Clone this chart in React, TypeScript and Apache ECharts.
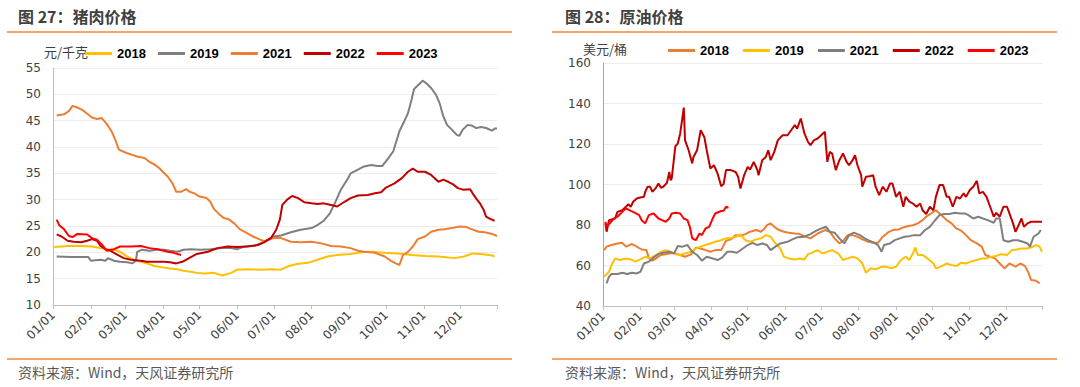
import React, { useEffect, useRef } from "react";
import * as echarts from "echarts";

// ---------- axis categories (days of year) ----------
const monthDays = [31, 28, 31, 30, 31, 30, 31, 31, 30, 31, 30, 31];
const dayLabels: string[] = [];
monthDays.forEach((n, m) => {
  for (let d = 1; d <= n; d++) {
    dayLabels.push(String(m + 1).padStart(2, "0") + "/" + String(d).padStart(2, "0"));
  }
});

// ---------- pork price (元/千克), [dayIndex, value] ----------
const pork2018: [number, number][] = [
  [1, 21.0], [12, 21.2], [23, 21.2], [32, 21.1], [39, 20.8], [44, 20.6], [50, 20.5], [55, 20.1], [61, 19.2], [66, 18.6],
  [72, 18.2], [77, 17.9], [83, 17.4], [88, 17.2], [94, 17.0], [102, 16.8], [107, 16.5], [113, 16.3], [118, 16.1], [124, 16.0],
  [132, 16.1], [139, 15.6], [146, 16.1], [151, 16.7], [160, 16.8], [170, 16.7], [179, 16.8], [187, 16.7], [192, 17.3], [200, 17.8],
  [209, 18.0], [217, 18.6], [225, 19.2], [233, 19.5], [244, 19.7], [253, 20.0], [261, 20.1], [272, 19.9], [283, 19.8], [294, 19.5],
  [305, 19.3], [316, 19.2], [329, 18.9], [337, 19.2], [344, 19.8], [351, 19.7], [360, 19.4], [362, 19.2],
];
const pork2019: [number, number][] = [
  [3, 19.2], [15, 19.1], [29, 19.1], [31, 18.4], [39, 18.6], [43, 18.4], [45, 18.9], [50, 18.4], [55, 18.2], [61, 18.1],
  [65, 17.9], [68, 18.4], [69, 20.1], [73, 20.5], [79, 20.3], [85, 20.5], [91, 20.5], [96, 20.3], [102, 20.1], [107, 20.5],
  [113, 20.6], [121, 20.5], [129, 20.6], [138, 20.8], [146, 20.8], [151, 20.6], [157, 21.1], [165, 21.2], [173, 22.0], [179, 22.7],
  [181, 23.0], [187, 23.2], [195, 23.8], [203, 24.3], [212, 24.6], [217, 25.2], [222, 26.0], [227, 27.4], [231, 29.3], [236, 31.9],
  [242, 34.1], [244, 35.0], [250, 35.7], [255, 36.3], [261, 36.6], [266, 36.4], [270, 36.4], [275, 37.9], [279, 39.2], [281, 40.7],
  [284, 43.0], [288, 44.9], [291, 46.4], [294, 49.0], [296, 51.0], [301, 52.1], [303, 52.6], [306, 52.1], [310, 51.2], [314, 49.9],
  [317, 48.3], [320, 45.8], [323, 44.2], [327, 43.3], [331, 42.3], [333, 42.1], [336, 43.3], [340, 44.2], [343, 44.1], [347, 43.6],
  [351, 43.8], [355, 43.6], [360, 43.1], [362, 43.5], [364, 43.5],
];
const pork2021: [number, number][] = [
  [3, 46.0], [9, 46.2], [13, 46.8], [16, 47.8], [21, 47.4], [25, 46.9], [28, 46.3], [32, 45.6], [36, 45.3], [40, 45.5],
  [44, 44.4], [48, 43.0], [51, 41.4], [54, 39.5], [57, 39.2], [61, 38.8], [65, 38.5], [69, 38.2], [75, 37.9], [79, 37.2],
  [83, 36.7], [87, 36.0], [90, 35.3], [94, 34.4], [98, 33.1], [101, 31.5], [105, 31.5], [109, 32.0], [112, 31.5], [116, 31.2],
  [120, 30.6], [126, 30.3], [129, 29.6], [132, 28.2], [136, 27.3], [140, 26.5], [144, 26.3], [149, 25.4], [153, 24.4], [158, 23.8],
  [164, 23.0], [169, 22.5], [173, 22.1], [181, 22.7], [187, 22.7], [195, 22.0], [203, 21.9], [212, 22.0], [220, 21.7], [228, 21.2],
  [236, 21.1], [244, 20.8], [250, 20.3], [255, 20.1], [264, 19.9], [272, 19.2], [277, 18.4], [281, 17.9], [284, 17.6], [287, 19.5],
  [291, 20.1], [295, 21.1], [299, 22.5], [305, 23.0], [310, 23.9], [316, 24.3], [321, 24.4], [327, 24.6], [333, 24.9], [339, 24.8],
  [343, 24.4], [349, 23.9], [354, 23.8], [360, 23.5], [364, 23.1],
];
const pork2022: [number, number][] = [
  [3, 23.4], [7, 23.0], [12, 22.2], [17, 22.0], [23, 21.9], [28, 22.2], [32, 22.5], [36, 22.2], [39, 21.2], [43, 20.6],
  [47, 20.3], [53, 19.5], [58, 18.9], [64, 18.6], [72, 18.4], [77, 18.2], [83, 18.2], [91, 18.2], [96, 18.1], [101, 17.9],
  [106, 18.2], [113, 19.1], [118, 19.7], [127, 20.1], [135, 20.8], [143, 21.1], [151, 21.0], [159, 21.1], [168, 21.4], [173, 21.9],
  [179, 22.8], [183, 24.3], [186, 26.2], [188, 29.0], [192, 30.0], [196, 30.7], [201, 30.3], [206, 29.5], [212, 29.3], [217, 29.2],
  [222, 29.3], [228, 29.0], [233, 28.7], [239, 29.6], [244, 30.3], [250, 30.8], [258, 30.9], [264, 31.2], [269, 31.4], [273, 32.3],
  [280, 33.1], [286, 34.1], [291, 35.3], [295, 35.9], [299, 35.3], [305, 35.3], [310, 34.7], [316, 33.4], [320, 33.8], [324, 33.4],
  [328, 32.9], [332, 32.2], [336, 31.9], [342, 32.0], [344, 31.2], [347, 30.2], [350, 29.3], [353, 28.1], [355, 26.8], [358, 26.4],
  [362, 26.0],
];
const pork2023: [number, number][] = [
  [3, 26.2], [5, 25.2], [9, 24.4], [13, 23.1], [16, 22.9], [20, 23.5], [28, 23.4], [32, 22.7], [36, 22.4], [40, 21.5],
  [44, 20.3], [50, 20.6], [55, 21.1], [64, 21.1], [72, 21.2], [79, 20.8], [86, 20.6], [94, 20.1], [99, 19.9], [105, 19.5],
];

// ---------- crude oil price (美元/桶), [dayIndex, value] ----------
const oil2018: [number, number][] = [
  [1, 67.6], [3, 69.3], [7, 70.1], [12, 70.9], [16, 71.2], [19, 69.3], [24, 70.6], [28, 69.3], [32, 67.9], [36, 67.6],
  [38, 63.5], [41, 62.4], [44, 63.5], [48, 65.2], [52, 65.6], [56, 66.0], [60, 66.0], [64, 65.2], [68, 64.3], [73, 65.5],
  [77, 68.9], [81, 68.4], [85, 67.6], [89, 66.8], [93, 67.6], [98, 67.6], [102, 72.2], [106, 72.9], [110, 75.0], [114, 74.7],
  [118, 75.5], [122, 76.7], [127, 77.5], [131, 76.7], [134, 78.3], [136, 79.9], [139, 80.8], [142, 79.1], [146, 77.5], [150, 76.7],
  [154, 76.2], [159, 75.8], [163, 75.5], [167, 74.5], [172, 73.4], [178, 75.8], [184, 77.5], [188, 76.7], [192, 73.4], [196, 70.9],
  [199, 72.2], [203, 75.0], [207, 75.0], [211, 74.2], [215, 72.9], [220, 71.7], [224, 71.2], [228, 71.2], [232, 74.2], [236, 76.2],
  [240, 77.5], [245, 77.8], [249, 78.8], [253, 79.5], [257, 79.9], [261, 80.8], [265, 82.4], [268, 84.1], [272, 85.7], [276, 87.3],
  [279, 85.7], [282, 84.1], [285, 82.4], [289, 80.8], [293, 78.3], [297, 77.2], [301, 75.0], [305, 72.5], [310, 70.9], [314, 69.3],
  [317, 65.2], [321, 64.3], [325, 63.5], [329, 61.0], [333, 58.6], [337, 61.0], [342, 59.4], [346, 61.0], [350, 59.7], [353, 56.1],
  [355, 52.8], [359, 52.5], [362, 51.2],
];
const oil2019: [number, number][] = [
  [1, 54.5], [5, 56.9], [7, 60.2], [10, 63.5], [14, 62.7], [19, 63.5], [23, 63.0], [27, 61.9], [31, 63.0], [35, 64.3],
  [39, 63.5], [44, 65.2], [48, 66.8], [52, 67.6], [56, 66.8], [60, 65.6], [64, 65.2], [68, 66.0], [73, 66.8], [77, 68.4],
  [81, 69.3], [85, 70.1], [89, 70.9], [93, 71.7], [98, 72.5], [102, 73.4], [106, 73.4], [110, 74.2], [114, 75.3], [118, 72.5],
  [122, 71.7], [127, 72.9], [131, 73.4], [135, 75.0], [139, 74.2], [143, 70.9], [147, 68.4], [150, 64.3], [154, 63.5], [159, 63.0],
  [163, 63.5], [167, 63.0], [170, 65.6], [172, 66.0], [178, 67.6], [182, 66.0], [186, 66.8], [190, 67.6], [195, 66.0], [199, 62.7],
  [203, 63.5], [207, 64.3], [211, 63.5], [215, 61.0], [218, 56.4], [222, 58.6], [226, 58.1], [231, 59.4], [235, 59.4], [239, 58.6],
  [243, 59.4], [247, 62.7], [251, 64.3], [254, 62.7], [257, 66.0], [259, 68.9], [261, 65.2], [265, 65.2], [269, 63.5], [274, 61.0],
  [276, 58.6], [281, 59.7], [285, 61.0], [289, 60.2], [293, 59.7], [297, 61.4], [301, 61.0], [305, 61.9], [310, 62.7], [314, 63.5],
  [318, 63.5], [322, 64.3], [326, 64.7], [330, 65.6], [335, 65.2], [339, 67.6], [343, 67.9], [347, 68.4], [351, 68.4], [355, 68.9],
  [359, 70.1], [362, 69.3], [364, 66.8],
];
const oil2021: [number, number][] = [
  [3, 51.2], [5, 54.5], [7, 55.8], [12, 55.8], [16, 56.4], [20, 55.8], [24, 56.4], [28, 56.1], [31, 56.9], [34, 61.0],
  [38, 61.9], [42, 64.0], [46, 65.6], [50, 66.3], [55, 66.8], [59, 66.0], [62, 69.6], [66, 69.3], [70, 70.1], [74, 66.8],
  [78, 65.2], [82, 62.4], [86, 64.3], [91, 63.5], [95, 62.7], [99, 64.0], [103, 66.8], [107, 66.8], [111, 66.3], [116, 68.4],
  [120, 70.1], [124, 71.2], [128, 70.1], [132, 70.9], [136, 70.1], [139, 67.6], [143, 69.3], [147, 70.9], [153, 71.7], [157, 72.9],
  [161, 73.9], [167, 74.2], [172, 75.5], [177, 77.2], [181, 78.3], [185, 79.1], [188, 76.7], [192, 76.2], [196, 73.4], [200, 70.9],
  [204, 75.0], [208, 76.2], [213, 75.0], [217, 73.4], [221, 72.2], [225, 71.2], [228, 70.1], [231, 66.8], [233, 70.1], [238, 70.9],
  [242, 72.5], [246, 73.4], [250, 74.2], [254, 74.5], [258, 75.0], [263, 75.0], [267, 77.5], [271, 79.1], [275, 82.1], [279, 84.9],
  [283, 85.4], [287, 85.4], [292, 86.0], [296, 85.7], [300, 85.7], [303, 84.9], [307, 83.2], [311, 84.1], [315, 83.2], [319, 82.4],
  [324, 81.1], [326, 83.2], [329, 83.2], [332, 72.5], [336, 71.7], [340, 72.5], [344, 72.5], [348, 71.7], [352, 70.9], [354, 69.3],
  [357, 74.2], [361, 75.8], [363, 77.5],
];
const oil2022: [number, number][] = [
  [2, 80.8], [3, 76.7], [5, 82.4], [7, 82.7], [10, 83.2], [12, 86.5], [16, 87.3], [19, 89.0], [21, 90.3], [23, 89.0],
  [25, 91.5], [28, 93.1], [31, 93.6], [34, 93.9], [35, 96.4], [37, 98.9], [39, 98.9], [41, 96.4], [44, 98.5], [46, 100.5],
  [48, 98.4], [50, 98.9], [53, 100.8], [55, 106.2], [56, 102.1], [57, 103.0], [60, 118.9], [62, 120.2], [64, 125.2], [67, 138.0],
  [68, 121.9], [71, 116.9], [74, 110.4], [75, 113.6], [78, 116.9], [81, 126.8], [84, 123.5], [86, 116.9], [89, 107.9], [92, 109.5],
  [95, 105.4], [98, 99.2], [100, 100.2], [102, 107.1], [106, 107.1], [110, 106.2], [112, 103.8], [114, 98.0], [117, 104.6], [120, 108.7],
  [122, 107.4], [125, 111.2], [128, 107.1], [129, 104.6], [132, 112.0], [135, 113.6], [137, 116.9], [139, 112.0], [142, 116.1], [145, 121.9],
  [149, 124.3], [153, 124.3], [156, 126.8], [159, 129.3], [161, 127.6], [164, 132.6], [167, 125.2], [170, 121.0], [172, 119.4], [175, 121.9],
  [178, 122.7], [184, 126.0], [186, 111.2], [188, 116.1], [190, 115.3], [193, 107.1], [196, 112.0], [199, 115.3], [202, 111.2], [204, 109.5],
  [207, 112.0], [209, 114.5], [211, 109.5], [214, 104.6], [215, 98.9], [218, 103.8], [221, 104.1], [224, 104.6], [226, 98.9], [229, 94.7],
  [232, 98.9], [235, 96.4], [238, 100.5], [240, 100.5], [243, 93.9], [246, 96.4], [249, 89.0], [251, 93.9], [254, 91.5], [257, 90.6],
  [260, 89.0], [263, 90.6], [265, 87.3], [268, 85.4], [271, 89.0], [274, 87.3], [276, 93.9], [279, 99.7], [282, 99.7], [285, 93.9],
  [287, 93.9], [290, 89.0], [293, 93.9], [296, 93.1], [299, 95.6], [301, 93.9], [304, 97.2], [307, 98.9], [310, 101.8], [312, 95.6],
  [315, 96.4], [318, 93.9], [321, 89.0], [324, 84.1], [326, 86.0], [329, 84.1], [332, 89.0], [335, 89.0], [337, 85.7], [340, 80.8],
  [342, 76.7], [344, 79.1], [347, 83.2], [349, 79.1], [352, 80.8], [355, 81.6], [359, 81.6], [364, 81.6],
];
const oil2023: [number, number][] = [
  [2, 81.6], [3, 79.1], [6, 81.1], [9, 83.2], [12, 84.1], [16, 86.5], [19, 88.2], [23, 87.0], [25, 86.5], [30, 84.9],
  [32, 82.4], [35, 80.8], [38, 84.9], [42, 85.7], [46, 83.2], [49, 82.4], [52, 81.6], [55, 83.2], [57, 85.7], [60, 86.0],
  [64, 85.7], [67, 83.2], [70, 82.4], [72, 79.1], [74, 73.4], [77, 72.5], [80, 75.8], [82, 75.0], [85, 78.3], [88, 79.1],
  [91, 83.2], [93, 85.7], [98, 86.9], [100, 87.0], [102, 89.0], [104, 88.5],
];

const porkNames = ["2018", "2019", "2021", "2022", "2023"];
const porkColors = ["#FFC000", "#7F7F7F", "#ED7D31", "#C00000", "#FF0000"];
const porkData = [pork2018, pork2019, pork2021, pork2022, pork2023];

const oilNames = ["2018", "2019", "2021", "2022", "2023"];
const oilColors = ["#ED7D31", "#FFC000", "#7F7F7F", "#C00000", "#FF0000"];
const oilData = [oil2018, oil2019, oil2021, oil2022, oil2023];

const CN = "'Noto Sans CJK SC', 'Microsoft YaHei', sans-serif";
const NUM = "'DejaVu Sans', sans-serif";
const RULE = "#F0883A";

function isMonthStart(_i: number, v: string) {
  return v.endsWith("/01");
}

function buildOption(p: {
  title: string;
  unit: string;
  unitX: number;
  unitY: number;
  names: string[];
  colors: string[];
  data: [number, number][][];
  gridLeft: number;
  gridRight: number;
  gridTop: number;
  gridBottom: number;
  min: number;
  max: number;
  interval: number;
  legendLeft: number;
  legendTop: number;
  legendGap: number;
  titleX: number;
  ruleX1: number;
  ruleX2: number;
  axisLineColor: string;
}) {
  const last = dayLabels.length - 1;
  return {
    animation: false,
    backgroundColor: "#ffffff",
    legend: {
      left: p.legendLeft,
      top: p.legendTop,
      padding: 0,
      icon: "rect",
      itemWidth: 27,
      itemHeight: 3,
      itemGap: p.legendGap,
      textStyle: { color: "#000", fontSize: 13, fontWeight: "bold", fontFamily: "'Liberation Sans', Arial, sans-serif" },
      data: p.names,
    },
    grid: { left: p.gridLeft, right: p.gridRight, top: p.gridTop, bottom: p.gridBottom },
    xAxis: {
      type: "category",
      data: dayLabels,
      boundaryGap: false,
      axisLine: { show: true, lineStyle: { color: "#BFBFBF", width: 1 } },
      axisTick: {
        show: true,
        length: 4,
        lineStyle: { color: "#BFBFBF" },
        interval: (i: number, v: string) => v.endsWith("/01") || i === last,
      },
      axisLabel: {
        interval: isMonthStart,
        rotate: 45,
        margin: 8,
        color: "#404040",
        fontSize: 12,
        fontFamily: NUM,
      },
      splitLine: { show: false },
    },
    yAxis: {
      type: "value",
      min: p.min,
      max: p.max,
      interval: p.interval,
      axisLine: { show: true, lineStyle: { color: p.axisLineColor, width: 1 } },
      axisTick: { show: false },
      axisLabel: { color: "#404040", fontSize: 12, fontFamily: NUM, margin: 12 },
      splitLine: { show: true, lineStyle: { color: "#EDEDED", width: 1 } },
    },
    series: p.names.map((n, i) => ({
      name: n,
      type: "line",
      data: p.data[i],
      symbol: "none",
      showSymbol: false,
      color: p.colors[i],
      lineStyle: { color: p.colors[i], width: 2 },
    })),
    graphic: [
      {
        type: "text",
        left: p.titleX,
        top: 8,
        style: { text: p.title, fill: "#404040", font: `bold 16px ${CN}` },
      },
      {
        type: "line",
        shape: { x1: p.ruleX1, y1: 32, x2: p.ruleX2, y2: 32 },
        style: { stroke: RULE, lineWidth: 1.5 },
      },
      {
        type: "text",
        left: p.unitX,
        top: p.unitY,
        style: { text: p.unit, fill: "#404040", font: `13px ${CN}` },
      },
      {
        type: "line",
        shape: { x1: p.ruleX1, y1: 359, x2: p.ruleX2, y2: 359 },
        style: { stroke: RULE, lineWidth: 1.5 },
      },
      {
        type: "text",
        left: p.titleX,
        top: 365,
        style: { text: "资料来源：Wind，天风证券研究所", fill: "#595959", font: `14px ${CN}` },
      },
    ],
  };
}

export default function App() {
  const leftRef = useRef<HTMLDivElement>(null);
  const rightRef = useRef<HTMLDivElement>(null);

  useEffect(() => {
    document.body.style.margin = "0";
    const c1 = echarts.init(leftRef.current!, undefined, { renderer: "svg" });
    const c2 = echarts.init(rightRef.current!, undefined, { renderer: "svg" });
    c1.setOption(
      buildOption({
        title: "图 27：猪肉价格",
        unit: "元/千克",
        unitX: 44,
        unitY: 45,
        names: porkNames,
        colors: porkColors,
        data: porkData,
        gridLeft: 53,
        gridRight: 43,
        gridTop: 68,
        gridBottom: 82,
        min: 10,
        max: 55,
        interval: 5,
        legendLeft: 85,
        legendTop: 47,
        legendGap: 12,
        titleX: 18,
        ruleX1: 7,
        ruleX2: 512,
        axisLineColor: "#BFBFBF",
      })
    );
    c2.setOption(
      buildOption({
        title: "图 28：原油价格",
        unit: "美元/桶",
        unitX: 43,
        unitY: 42,
        names: oilNames,
        colors: oilColors,
        data: oilData,
        gridLeft: 63,
        gridRight: 38,
        gridTop: 63,
        gridBottom: 81,
        min: 40,
        max: 160,
        interval: 20,
        legendLeft: 128,
        legendTop: 44,
        legendGap: 14,
        titleX: 25,
        ruleX1: 12,
        ruleX2: 517,
        axisLineColor: "#A6A6A6",
      })
    );
    return () => {
      c1.dispose();
      c2.dispose();
    };
  }, []);

  return (
    <div style={{ position: "fixed", left: 0, top: 0, width: 1080, height: 387, background: "#fff", display: "flex" }}>
      <div ref={leftRef} style={{ width: 540, height: 387 }} />
      <div ref={rightRef} style={{ width: 540, height: 387 }} />
    </div>
  );
}
